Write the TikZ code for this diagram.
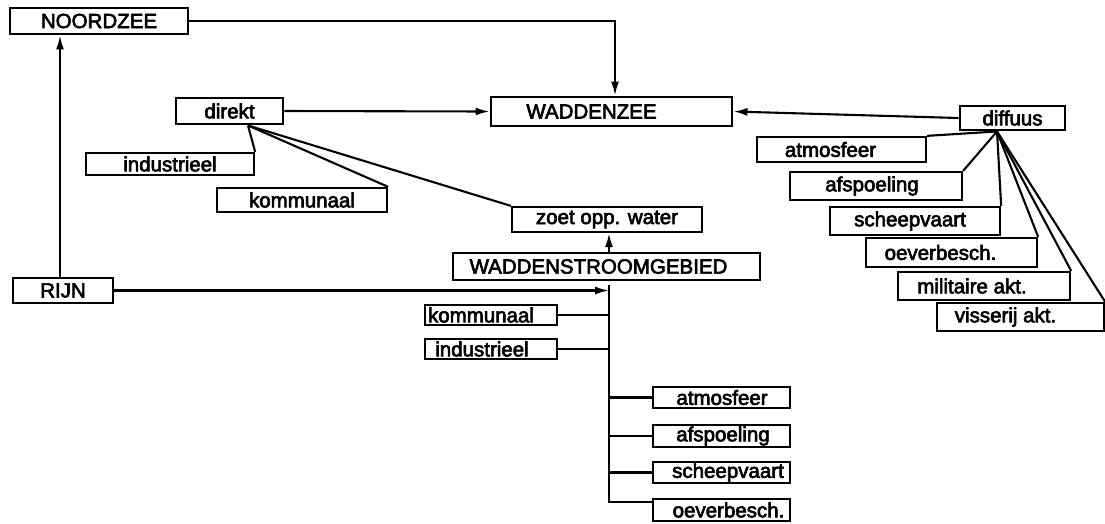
\documentclass[tikz,border=0pt]{standalone}
\usepackage{fontspec}
\setmainfont{Liberation Sans}
\newfontfamily\labfont{Liberation Sans}[FakeBold=3]
\usetikzlibrary{arrows.meta}
\begin{document}
\begin{tikzpicture}[x=1pt,y=-1pt,
  box/.style={draw, line width=2.3pt, inner sep=0pt, font=\labfont\fontsize{20.5}{24}\selectfont},
  hbox/.style={box, line width=2.9pt},
  tsh/.style={execute at begin node={\hspace*{#1}}},
  conn/.style={line width=2.1pt},
  arr/.style={conn, -{Latex[length=14pt,width=8pt]}}]
\useasboundingbox (0,0) rectangle (1105,523);
% boxes
\node[hbox, minimum width=178pt, minimum height=26pt] (nz) at (99,21) {NOORDZEE};
\node[hbox, minimum width=241pt, minimum height=29pt, tsh=-40pt] (wz) at (611.5,111.5) {WADDENZEE};
\node[hbox, minimum width=107pt, minimum height=26pt] (dir) at (229.5,111) {direkt};
\node[hbox, minimum width=105pt, minimum height=24pt] (dif) at (1012.5,118) {diffuus};
\node[box, minimum width=168pt, minimum height=22pt] (ind1) at (170,164) {industrieel};
\node[box, minimum width=170pt, minimum height=24pt] (kom1) at (302,200) {kommunaal};
\node[box, minimum width=190pt, minimum height=25pt] (zoet) at (607,219.5) {zoet opp. water};
\node[hbox, minimum width=307pt, minimum height=27pt, tsh=-16pt] (wsg) at (606.5,266.5) {WADDENSTROOMGEBIED};
\node[box, minimum width=100pt, minimum height=25pt] (rijn) at (63,290.5) {RIJN};
\node[box, minimum width=132pt, minimum height=20pt, tsh=-20pt] (kom2) at (491,315) {kommunaal};
\node[box, minimum width=132pt, minimum height=20pt, tsh=-18pt] (ind2) at (491,349) {industrieel};
\node[box, minimum width=137pt, minimum height=21pt, tsh=1pt] (atm2) at (721.5,397.5) {atmosfeer};
\node[box, minimum width=137pt, minimum height=22pt, tsh=3pt] (afs2) at (721.5,436) {afspoeling};
\node[box, minimum width=137pt, minimum height=21pt, tsh=13pt] (sch2) at (721.5,472.5) {scheepvaart};
\node[box, minimum width=137pt, minimum height=22pt, tsh=14pt] (oev2) at (721.5,510) {oeverbesch.};
\node[box, minimum width=169pt, minimum height=25pt, tsh=-22pt] (atm1) at (841.5,149.5) {atmosfeer};
\node[box, minimum width=172pt, minimum height=28pt, tsh=-8pt] (afs1) at (876,186) {afspoeling};
\node[box, minimum width=170pt, minimum height=28pt, tsh=-10pt] (sch1) at (915,221) {scheepvaart};
\node[box, minimum width=171pt, minimum height=29pt, tsh=-22pt] (oev1) at (951.5,252.5) {oeverbesch.};
\node[box, minimum width=172pt, minimum height=28pt, tsh=-24pt] (mil) at (984,286) {militaire akt.};
\node[box, minimum width=167pt, minimum height=28pt, tsh=-30pt] (vis) at (1020.5,317) {visserij akt.};
% connectors
\draw[arr] (nz.east) -| ([xshift=3.5pt]wz.north);
\draw[arr] (dir.east) -- (wz.west);
\draw[arr] (dif.west) -- (wz.east);
\coordinate (df) at ([xshift=18.5pt]dir.south);
\draw[conn] (df) -- (ind1.north east);
\draw[conn] (df) -- (kom1.north east);
\draw[conn] (df) -- (zoet.north west);
\coordinate (ff) at ([xshift=-15.5pt]dif.south);
\draw[conn] (ff) -- (atm1.north east);
\draw[conn] (ff) -- (afs1.north east);
\draw[conn] (ff) -- (sch1.north east);
\draw[conn] (ff) -- (oev1.north east);
\draw[conn] (ff) -- (mil.north east);
\draw[conn] (ff) -- (vis.north east);
\draw[arr] ([xshift=-3pt]rijn.north) -- ([xshift=-3pt]rijn.north |- nz.south);
\coordinate (tr) at (609,285);
\draw[arr] (rijn.east) -- (rijn.east -| tr);
\draw[arr] (wsg.north -| tr) -- (zoet.south -| tr);
\draw[conn] (tr) |- ([yshift=8pt]oev2.west);
\draw[conn] (kom2.east) -- (kom2.east -| tr);
\draw[conn] (ind2.east) -- (ind2.east -| tr);
\draw[conn] (tr |- atm2.west) -- (atm2.west);
\draw[conn] (tr |- afs2.west) -- (afs2.west);
\draw[conn] (tr |- sch2.west) -- (sch2.west);
\end{tikzpicture}
\end{document}
